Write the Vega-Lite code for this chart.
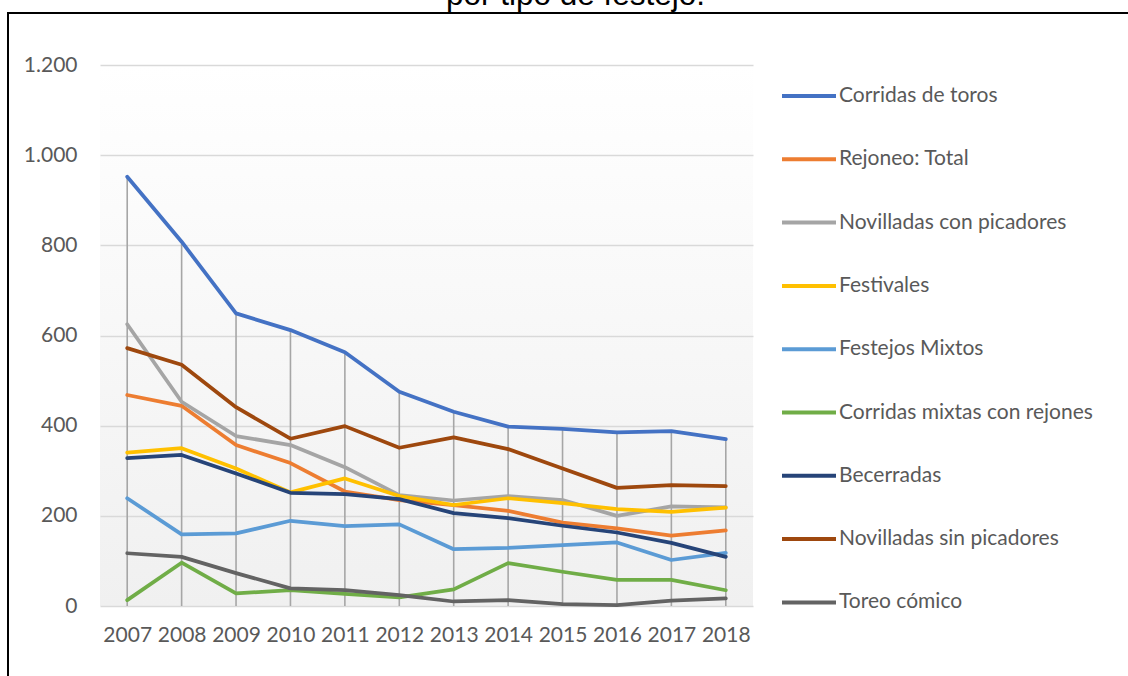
{
  "$schema": "https://vega.github.io/schema/vega-lite/v6.json",
  "autosize": {"type": "none"},
  "width": 653,
  "height": 541,
  "padding": {"left": 100, "top": 65, "right": 375, "bottom": 70},
  "background": "white",
  "title": {
    "text": "por tipo de festejo.",
    "font": "Liberation Sans",
    "fontSize": 31.5,
    "fontWeight": "normal",
    "color": "#000000",
    "anchor": "middle",
    "dx": 149,
    "dy": 40,
    "offset": 40
  },
  "data": {
    "values": [
      {"year": 2007, "Corridas de toros": 952, "Rejoneo: Total": 468, "Novilladas con picadores": 625, "Festivales": 340, "Festejos Mixtos": 239, "Corridas mixtas con rejones": 13, "Becerradas": 328, "Novilladas sin picadores": 572, "Toreo cómico": 117},
      {"year": 2008, "Corridas de toros": 808, "Rejoneo: Total": 444, "Novilladas con picadores": 453, "Festivales": 350, "Festejos Mixtos": 159, "Corridas mixtas con rejones": 96, "Becerradas": 335, "Novilladas sin picadores": 535, "Toreo cómico": 109},
      {"year": 2009, "Corridas de toros": 649, "Rejoneo: Total": 357, "Novilladas con picadores": 377, "Festivales": 305, "Festejos Mixtos": 161, "Corridas mixtas con rejones": 28, "Becerradas": 294, "Novilladas sin picadores": 441, "Toreo cómico": 73},
      {"year": 2010, "Corridas de toros": 612, "Rejoneo: Total": 317, "Novilladas con picadores": 357, "Festivales": 252, "Festejos Mixtos": 189, "Corridas mixtas con rejones": 35, "Becerradas": 251, "Novilladas sin picadores": 371, "Toreo cómico": 39},
      {"year": 2011, "Corridas de toros": 563, "Rejoneo: Total": 254, "Novilladas con picadores": 308, "Festivales": 283, "Festejos Mixtos": 177, "Corridas mixtas con rejones": 27, "Becerradas": 248, "Novilladas sin picadores": 399, "Toreo cómico": 35},
      {"year": 2012, "Corridas de toros": 475, "Rejoneo: Total": 235, "Novilladas con picadores": 246, "Festivales": 244, "Festejos Mixtos": 181, "Corridas mixtas con rejones": 19, "Becerradas": 237, "Novilladas sin picadores": 351, "Toreo cómico": 24},
      {"year": 2013, "Corridas de toros": 431, "Rejoneo: Total": 224, "Novilladas con picadores": 234, "Festivales": 224, "Festejos Mixtos": 126, "Corridas mixtas con rejones": 37, "Becerradas": 206, "Novilladas sin picadores": 374, "Toreo cómico": 10},
      {"year": 2014, "Corridas de toros": 398, "Rejoneo: Total": 211, "Novilladas con picadores": 244, "Festivales": 239, "Festejos Mixtos": 129, "Corridas mixtas con rejones": 95, "Becerradas": 195, "Novilladas sin picadores": 348, "Toreo cómico": 13},
      {"year": 2015, "Corridas de toros": 393, "Rejoneo: Total": 185, "Novilladas con picadores": 235, "Festivales": 228, "Festejos Mixtos": 135, "Corridas mixtas con rejones": 76, "Becerradas": 178, "Novilladas sin picadores": 305, "Toreo cómico": 4},
      {"year": 2016, "Corridas de toros": 385, "Rejoneo: Total": 172, "Novilladas con picadores": 200, "Festivales": 215, "Festejos Mixtos": 141, "Corridas mixtas con rejones": 58, "Becerradas": 163, "Novilladas sin picadores": 262, "Toreo cómico": 2},
      {"year": 2017, "Corridas de toros": 388, "Rejoneo: Total": 156, "Novilladas con picadores": 221, "Festivales": 209, "Festejos Mixtos": 102, "Corridas mixtas con rejones": 58, "Becerradas": 140, "Novilladas sin picadores": 268, "Toreo cómico": 12},
      {"year": 2018, "Corridas de toros": 370, "Rejoneo: Total": 168, "Novilladas con picadores": 219, "Festivales": 218, "Festejos Mixtos": 118, "Corridas mixtas con rejones": 35, "Becerradas": 109, "Novilladas sin picadores": 266, "Toreo cómico": 17}
    ]
  },
  "layer": [
    {
      "mark": {"type": "rule", "color": "#A6A6A6", "strokeWidth": 1.6},
      "encoding": {
        "x": {"field": "year", "type": "quantitative", "scale": {"domain": [2006.5, 2018.5], "nice": false, "zero": false}},
        "y": {"field": "Corridas de toros", "type": "quantitative", "scale": {"domain": [0, 1200], "nice": false}},
        "y2": {"datum": 0}
      }
    },
    {
      "transform": [
        {"fold": ["Corridas de toros", "Rejoneo: Total", "Novilladas con picadores", "Festivales", "Festejos Mixtos", "Corridas mixtas con rejones", "Becerradas", "Novilladas sin picadores", "Toreo cómico"], "as": ["serie", "value"]}
      ],
      "mark": {"type": "line", "strokeWidth": 3.75, "strokeCap": "round", "strokeJoin": "round"},
      "encoding": {
        "x": {
          "field": "year", "type": "quantitative",
          "scale": {"domain": [2006.5, 2018.5], "nice": false, "zero": false},
          "axis": {"title": null, "values": [2007, 2008, 2009, 2010, 2011, 2012, 2013, 2014, 2015, 2016, 2017, 2018], "format": "d", "grid": false, "domain": false, "ticks": false, "labelPadding": 18, "labelFlush": false, "labelFont": "Lato", "labelFontSize": 21, "labelColor": "#595959"}
        },
        "y": {
          "field": "value", "type": "quantitative",
          "scale": {"domain": [0, 1200], "nice": false},
          "axis": {"title": null, "values": [0, 200, 400, 600, 800, 1000, 1200], "format": ",d", "grid": true, "gridColor": "#D9D9D9", "gridWidth": 1.3, "domain": false, "ticks": false, "labelPadding": 23, "labelFont": "Lato", "labelFontSize": 21, "labelColor": "#595959"}
        },
        "color": {
          "field": "serie", "type": "nominal",
          "scale": {
            "domain": ["Corridas de toros", "Rejoneo: Total", "Novilladas con picadores", "Festivales", "Festejos Mixtos", "Corridas mixtas con rejones", "Becerradas", "Novilladas sin picadores", "Toreo cómico"],
            "range": ["#4472C4", "#ED7D31", "#A5A5A5", "#FFC000", "#5B9BD5", "#70AD47", "#264478", "#9E480E", "#636363"]
          },
          "legend": {
            "title": null, "orient": "none", "legendX": 680, "legendY": 2,
            "symbolType": "stroke", "symbolSize": 2916, "symbolStrokeWidth": 4,
            "labelFont": "Lato", "labelFontSize": 21, "labelColor": "#595959", "labelOffset": 1,
            "rowPadding": 24.3, "labelLimit": 400
          }
        }
      }
    },
    {
      "mark": {"type": "rect", "fill": null, "stroke": "#000000", "strokeWidth": 1.5},
      "encoding": {
        "x": {"datum": 2004.81, "type": "quantitative", "scale": {"domain": [2006.5, 2018.5], "nice": false, "zero": false}},
        "x2": {"datum": 2030},
        "y": {"datum": 1316, "type": "quantitative", "scale": {"domain": [0, 1200], "nice": false}},
        "y2": {"datum": -400}
      }
    }
  ],
  "config": {
    "locale": {"number": {"decimal": ",", "thousands": ".", "grouping": [3], "currency": ["", " €"]}},
    "view": {
      "stroke": null,
      "fill": {"gradient": "linear", "x1": 0, "y1": 0, "x2": 0, "y2": 1, "stops": [{"offset": 0, "color": "#FFFFFF"}, {"offset": 1, "color": "#F0F0F0"}]}
    }
  }
}
